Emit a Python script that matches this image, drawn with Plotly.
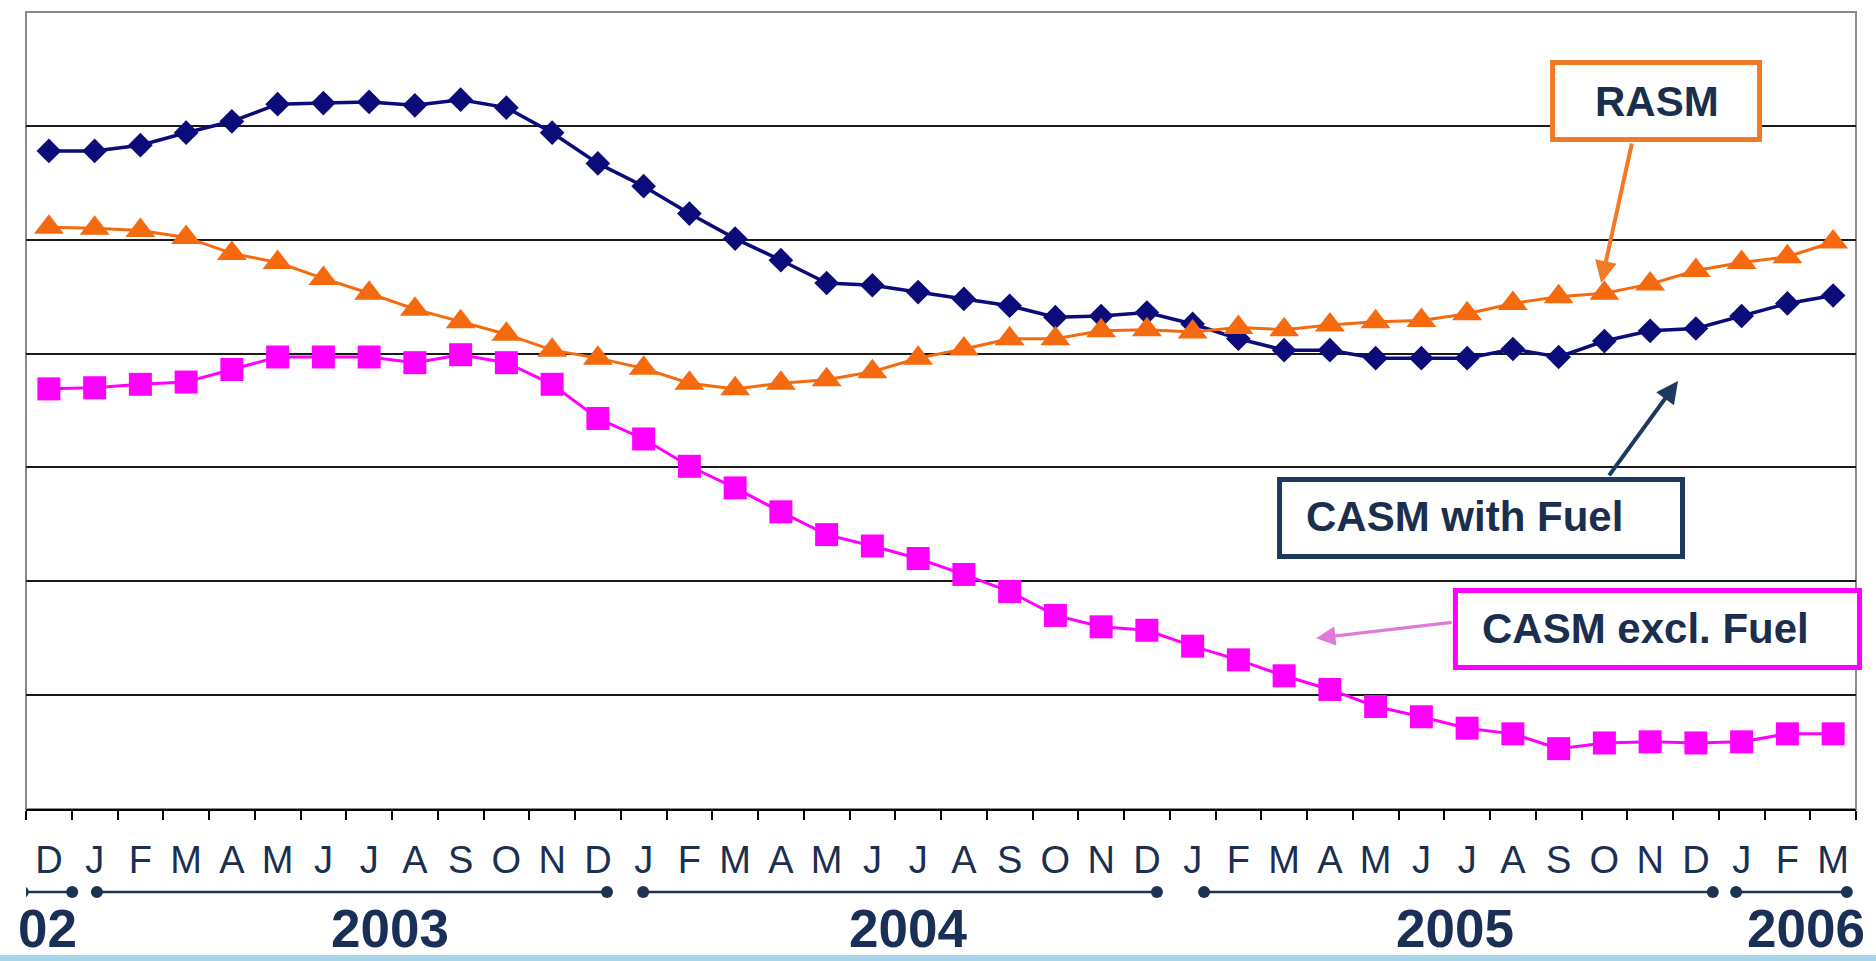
import pandas as pd
import plotly.graph_objects as go

# Monthly categories, Dec 2002 .. Mar 2006
months = [d.strftime("%b %Y") for d in pd.date_range("2002-12-01", periods=40, freq="MS")]
month_letters = [m[0] for m in months]

casm_with_fuel = [5.78, 5.78, 5.83, 5.94, 6.04, 6.19, 6.20, 6.21, 6.18, 6.23,
                  6.16, 5.94, 5.67, 5.47, 5.23, 5.01, 4.82, 4.62, 4.60, 4.54,
                  4.48, 4.42, 4.32, 4.33, 4.36, 4.26, 4.13, 4.03, 4.03, 3.96,
                  3.96, 3.96, 4.04, 3.97, 4.11, 4.20, 4.22, 4.33, 4.44, 4.51]
rasm = [5.11, 5.10, 5.08, 5.02, 4.88, 4.80, 4.66, 4.53, 4.39, 4.28,
        4.17, 4.03, 3.96, 3.87, 3.74, 3.69, 3.74, 3.77, 3.84, 3.96,
        4.04, 4.13, 4.13, 4.20, 4.21, 4.19, 4.23, 4.21, 4.25, 4.28,
        4.29, 4.35, 4.44, 4.50, 4.53, 4.61, 4.73, 4.80, 4.85, 4.98]
casm_excl_fuel = [3.69, 3.70, 3.73, 3.75, 3.86, 3.97, 3.97, 3.97, 3.92, 3.99,
                  3.92, 3.73, 3.43, 3.25, 3.01, 2.82, 2.61, 2.41, 2.31, 2.20,
                  2.06, 1.91, 1.70, 1.60, 1.57, 1.43, 1.31, 1.17, 1.05, 0.90,
                  0.81, 0.71, 0.66, 0.53, 0.58, 0.59, 0.58, 0.59, 0.66, 0.66]

year_labels = ["02", "2003", "2004", "2005", "2006"]

NAVY = "#0b0b7a"
ORANGE = "#f56a0e"
MAGENTA = "#ff00ff"
TEXT = "#1b2e4e"
FONT = "Liberation Sans, Arial, sans-serif"

fig = go.Figure()
fig.add_trace(go.Scatter(x=months, y=casm_with_fuel, mode="lines+markers", name="CASM with Fuel",
                         line=dict(color=NAVY, width=3.5),
                         marker=dict(symbol="diamond", size=19, color=NAVY)))
fig.add_trace(go.Scatter(x=months, y=rasm, mode="lines+markers", name="RASM",
                         line=dict(color=ORANGE, width=3),
                         marker=dict(symbol="triangle-up", size=26, color=ORANGE)))
fig.add_trace(go.Scatter(x=months, y=casm_excl_fuel, mode="lines+markers", name="CASM excl. Fuel",
                         line=dict(color=MAGENTA, width=3),
                         marker=dict(symbol="square", size=23, color=MAGENTA)))

shapes = []
# plot frame (grey), bottom axis drawn by the x axis itself
shapes.append(dict(type="rect", xref="paper", yref="paper", x0=0, x1=1, y0=0, y1=1,
                   line=dict(color="#8a8a8a", width=2), layer="below"))

# year brackets under the month letters
bracket_spans = [(-0.57, 0.51), (1.05, 12.2), (12.99, 24.22), (25.25, 36.37), (36.88, 39.3)]
bracket_y = -0.1041
for a, b in bracket_spans:
    shapes.append(dict(type="line", xref="x", yref="paper", x0=a, x1=b, y0=bracket_y, y1=bracket_y,
                       line=dict(color="#1e3352", width=2.5)))
    for c in (a, b):
        shapes.append(dict(type="circle", xref="x", yref="paper", xsizemode="pixel", ysizemode="pixel",
                           xanchor=c, yanchor=bracket_y, x0=-6, x1=6, y0=-6, y1=6,
                           fillcolor="#1e3352", line=dict(width=0)))

# light blue strip along the bottom edge
shapes.append(dict(type="rect", xref="paper", yref="paper", x0=-0.02, x1=1.02, y0=-0.1908, y1=-0.1832,
                   fillcolor="#a9d5ea", line=dict(width=0)))

# callout boxes
boxes = [
    ((0.8342, 0.9473, 0.8400, 0.9366), "#f27a26"),
    ((0.6850, 0.9052, 0.3168, 0.4134), "#1b3a5c"),
    ((0.7811, 1.0019, 0.1775, 0.2742), MAGENTA),
]
for (x0, x1, y0, y1), col in boxes:
    shapes.append(dict(type="rect", xref="paper", yref="paper", x0=x0, x1=x1, y0=y0, y1=y1,
                       fillcolor="white", line=dict(color=col, width=5)))

annotations = []
# callout texts
for txt, x, y in [("RASM", 0.8913, 0.8883), ("CASM with Fuel", 0.7863, 0.3664), ("CASM excl. Fuel", 0.8847, 0.2271)]:
    annotations.append(dict(text=f"<b>{txt}</b>", xref="paper", yref="paper", x=x, y=y,
                            showarrow=False, font=dict(family=FONT, size=42, color=TEXT),
                            xanchor="center", yanchor="middle"))

# callout arrows
for x, y, ax, ay, col, w in [(33.93, 4.62, 31, -141, "#f27a26", 4),
                             (35.61, 3.76, -70, 96, "#1b3a5c", 4),
                             (27.7, 1.50, 137, -16, "#e07ad8", 3.5)]:
    annotations.append(dict(text="", xref="x", yref="y", x=x, y=y, ax=ax, ay=ay,
                            showarrow=True, arrowhead=2, arrowsize=1.1, arrowwidth=w, arrowcolor=col))

# year labels
for txt, x in zip(year_labels, [-0.02, 7.46, 18.78, 30.73, 38.41]):
    annotations.append(dict(text=f"<b>{txt}</b>", xref="x", yref="paper", x=x, y=-0.1895,
                            showarrow=False, xanchor="center", yanchor="bottom",
                            font=dict(family=FONT, size=53, color="#1a2f55")))

fig.update_layout(
    width=1876, height=961,
    margin=dict(l=26, r=20, t=12, b=152),
    paper_bgcolor="white", plot_bgcolor="white",
    showlegend=False,
    shapes=shapes, annotations=annotations,
    xaxis=dict(type="category", categoryorder="array", categoryarray=months,
               tickmode="array", tickvals=months, ticktext=month_letters,
               tickson="boundaries", ticks="outside", ticklen=9, tickwidth=2, tickcolor="black",
               showline=True, linecolor="black", linewidth=2, showgrid=False,
               tickfont=dict(family=FONT, size=38, color="#1b2f52"),
               ticklabelstandoff=16, range=[-0.5, 39.5], fixedrange=True),
    yaxis=dict(range=[0, 7], tickmode="array", tickvals=[1, 2, 3, 4, 5, 6],
               showticklabels=False, ticks="", showgrid=True, gridcolor="#1a1a1a", gridwidth=2,
               zeroline=False, showline=False, fixedrange=True),
)

fig.write_html("out.html")
